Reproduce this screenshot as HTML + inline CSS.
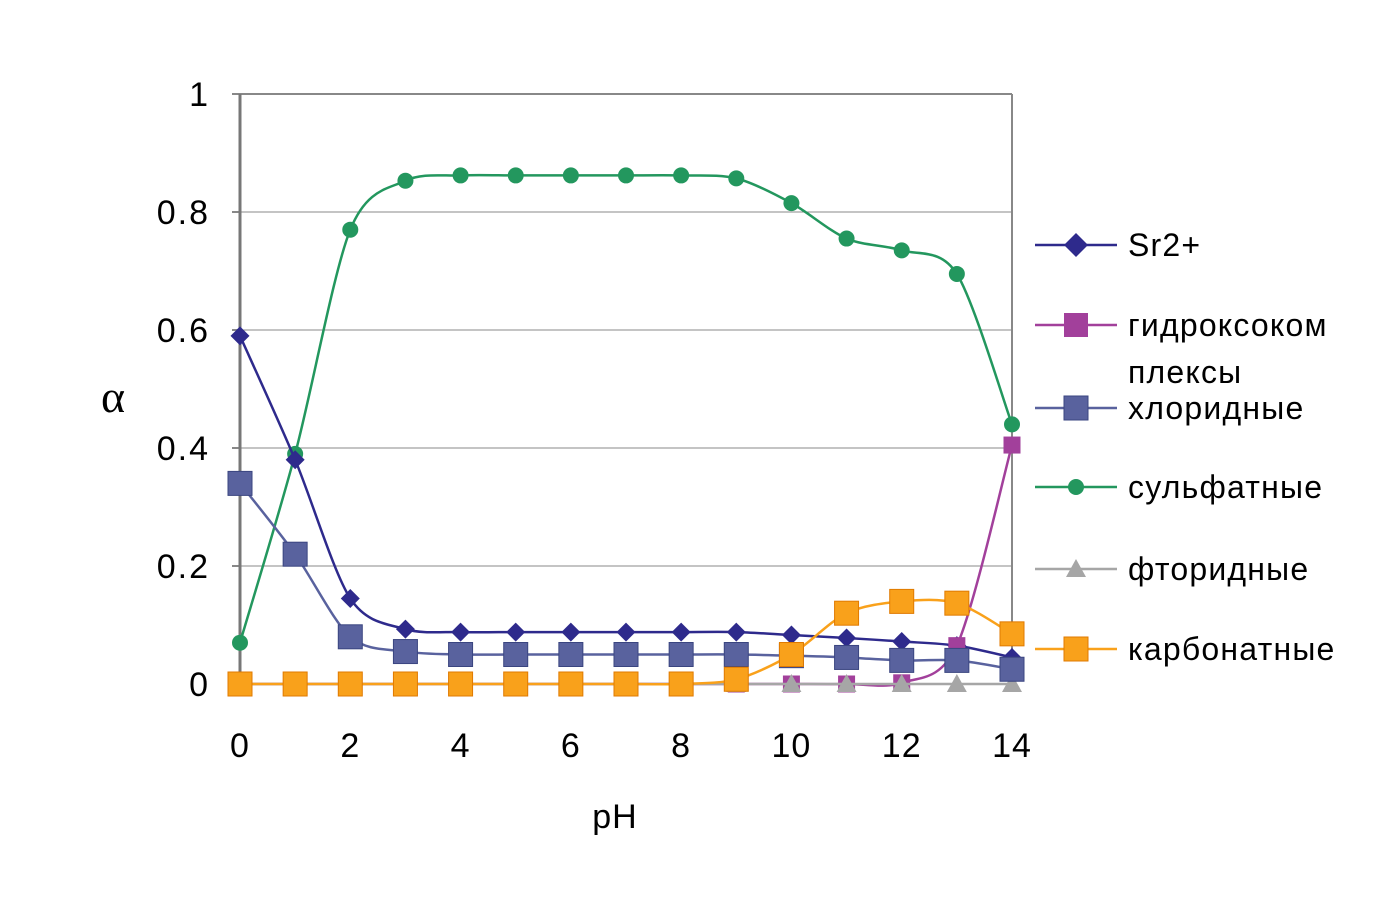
<!DOCTYPE html>
<html><head><meta charset="utf-8"><style>
html,body{margin:0;padding:0;background:#fff;}
svg text{font-family:"Liberation Sans",sans-serif;fill:#000;}
</style></head><body>
<svg id="chart" width="1386" height="919" xmlns="http://www.w3.org/2000/svg">
<g id="grid"></g>
<g id="axes"></g>
<g id="series"></g>
<g id="legend"></g>
<text x="113" y="412" font-size="46" text-anchor="middle" style="font-family:'Liberation Serif',serif">α</text>
<text x="615" y="828" font-size="34" letter-spacing="1" text-anchor="middle">pH</text>
</svg>
<script>
const phValues=[0,1,2,3,4,5,6,7,8,9,10,11,12,13,14];
const sr2=[0.59,0.38,0.145,0.093,0.088,0.088,0.088,0.088,0.088,0.088,0.083,0.078,0.072,0.065,0.045];
const hydroxo=[0,0,0,0,0,0,0,0,0,0,0,0,0.002,0.065,0.405];
const chloride=[0.34,0.22,0.08,0.055,0.05,0.05,0.05,0.05,0.05,0.05,0.048,0.045,0.04,0.04,0.025];
const sulfate=[0.07,0.39,0.77,0.853,0.862,0.862,0.862,0.862,0.862,0.857,0.815,0.755,0.735,0.695,0.44];
const fluoride=[0,0,0,0,0,0,0,0,0,0,0,0,0,0,0];
const carbonate=[0,0,0,0,0,0,0,0,0,0.008,0.05,0.12,0.14,0.137,0.085];
const xTicks=[0,2,4,6,8,10,12,14];
const yTicks=[0,0.2,0.4,0.6,0.8,1];
const yTickLabels=["0","0.2","0.4","0.6","0.8","1"];
const NS="http://www.w3.org/2000/svg";
const X0=240,X1=1012,Y0=684,Y1=94;
function xs(v){return X0+(v-0)/14*(X1-X0);}
function ys(v){return Y0-v*(Y0-Y1);}
function mk(tag,attrs,parent){const e=document.createElementNS(NS,tag);for(const k in attrs)e.setAttribute(k,attrs[k]);parent.appendChild(e);return e;}
const grid=document.getElementById('grid'),axes=document.getElementById('axes'),ser=document.getElementById('series'),leg=document.getElementById('legend');
yTicks.forEach((t,i)=>{
 if(t>0&&t<1){const l=mk('line',{x1:X0,x2:X1,y1:ys(t),y2:ys(t),stroke:'#888','stroke-width':1},grid);
 
 }
 const tk=mk('line',{x1:X0-8,x2:X0,y1:ys(t),y2:ys(t),stroke:'#888','stroke-width':2},axes);
 
 
 const tx=mk('text',{x:210,y:ys(t)+12,'font-size':34,'letter-spacing':2,'text-anchor':'end'},axes);tx.textContent=yTickLabels[i];
 
 
});
mk('line',{x1:X0,x2:X1,y1:Y1,y2:Y1,stroke:'#888','stroke-width':2},axes);
mk('line',{x1:X1,x2:X1,y1:Y1,y2:Y0,stroke:'#888','stroke-width':2},axes);
mk('line',{x1:X0,x2:X0,y1:Y1,y2:Y0,stroke:'#777','stroke-width':3},axes);
mk('line',{x1:X0,x2:X1,y1:Y0,y2:Y0,stroke:'#777','stroke-width':2},axes);
xTicks.forEach(t=>{const tx=mk('text',{x:xs(t),y:757,'font-size':34,'letter-spacing':1,'text-anchor':'middle'},axes);tx.textContent=t;
 
 });
function pathD(vals){const p=vals.map((v,i)=>[xs(phValues[i]),ys(v)]);let d='M'+p[0][0]+','+p[0][1];
 for(let i=0;i<p.length-1;i++){const a=p[i-1]||p[i],b=p[i],c=p[i+1],e=p[i+2]||c;const t=0.15;
  d+=` C${b[0]+(c[0]-a[0])*t},${b[1]+(c[1]-a[1])*t} ${c[0]-(e[0]-b[0])*t},${c[1]-(e[1]-b[1])*t} ${c[0]},${c[1]}`;}return d;}
function marker(type,x,y,color,g,big){let e;
 if(type==='diamond'){const s=big?12:9.5;e=mk('polygon',{points:`${x},${y-s} ${x+s},${y} ${x},${y+s} ${x-s},${y}`,fill:color},g);}
 else if(type==='square'){const s=big?12:8.5;e=mk('rect',{x:x-s,y:y-s,width:2*s,height:2*s,fill:color},g);}
 else if(type==='bigsquare'){const s=12;e=mk('rect',{x:x-s,y:y-s,width:2*s,height:2*s,fill:color,stroke:'#3a4580','stroke-width':1},g);}
 else if(type==='osquare'){const s=12;e=mk('rect',{x:x-s,y:y-s,width:2*s,height:2*s,fill:color,stroke:'#e07a00','stroke-width':1},g);}
 else if(type==='circle'){e=mk('circle',{cx:x,cy:y,r:8,fill:color},g);}
 else if(type==='tri'){const s=10;e=mk('polygon',{points:`${x},${y-s} ${x+s},${y+s*0.8} ${x-s},${y+s*0.8}`,fill:color},g);}
 return e;}
const seriesDefs=[
 {name:'sulfate',vals:sulfate,color:'#23975e',m:'circle',label:['сульфатные'],ly:487},
 {name:'sr2',vals:sr2,color:'#2e2a8c',m:'diamond',label:['Sr2+'],ly:245},
 {name:'hydroxo',vals:hydroxo,color:'#a2409b',m:'square',label:['гидроксоком','плексы'],ly:325},
 {name:'fluoride',vals:fluoride,color:'#a6a6a6',m:'tri',label:['фторидные'],ly:569},
 {name:'chloride',vals:chloride,color:'#59629e',m:'bigsquare',label:['хлоридные'],ly:408},
 {name:'carbonate',vals:carbonate,color:'#f9a11b',m:'osquare',label:['карбонатные'],ly:649}
];
seriesDefs.forEach(s=>{
 const g=mk('g',{},ser);
 
 
 const p=mk('path',{d:pathD(s.vals),fill:'none',stroke:s.color,'stroke-width':2.5},g);
 
 
 s.vals.forEach((v,i)=>{const m=marker(s.m,xs(phValues[i]),ys(v),s.color,g);
  
  });
 const lg=mk('g',{},leg);
 
 
 mk('line',{x1:1035,x2:1117,y1:s.ly,y2:s.ly,stroke:s.color,'stroke-width':2.5},lg);
 marker(s.m,1076,s.ly,s.color,lg,true);
 s.label.forEach((t,j)=>{const tx=mk('text',{x:1128,y:s.ly+11+j*47,'font-size':32,'letter-spacing':1.2},lg);tx.textContent=t;});
});
</script>
</body></html>
